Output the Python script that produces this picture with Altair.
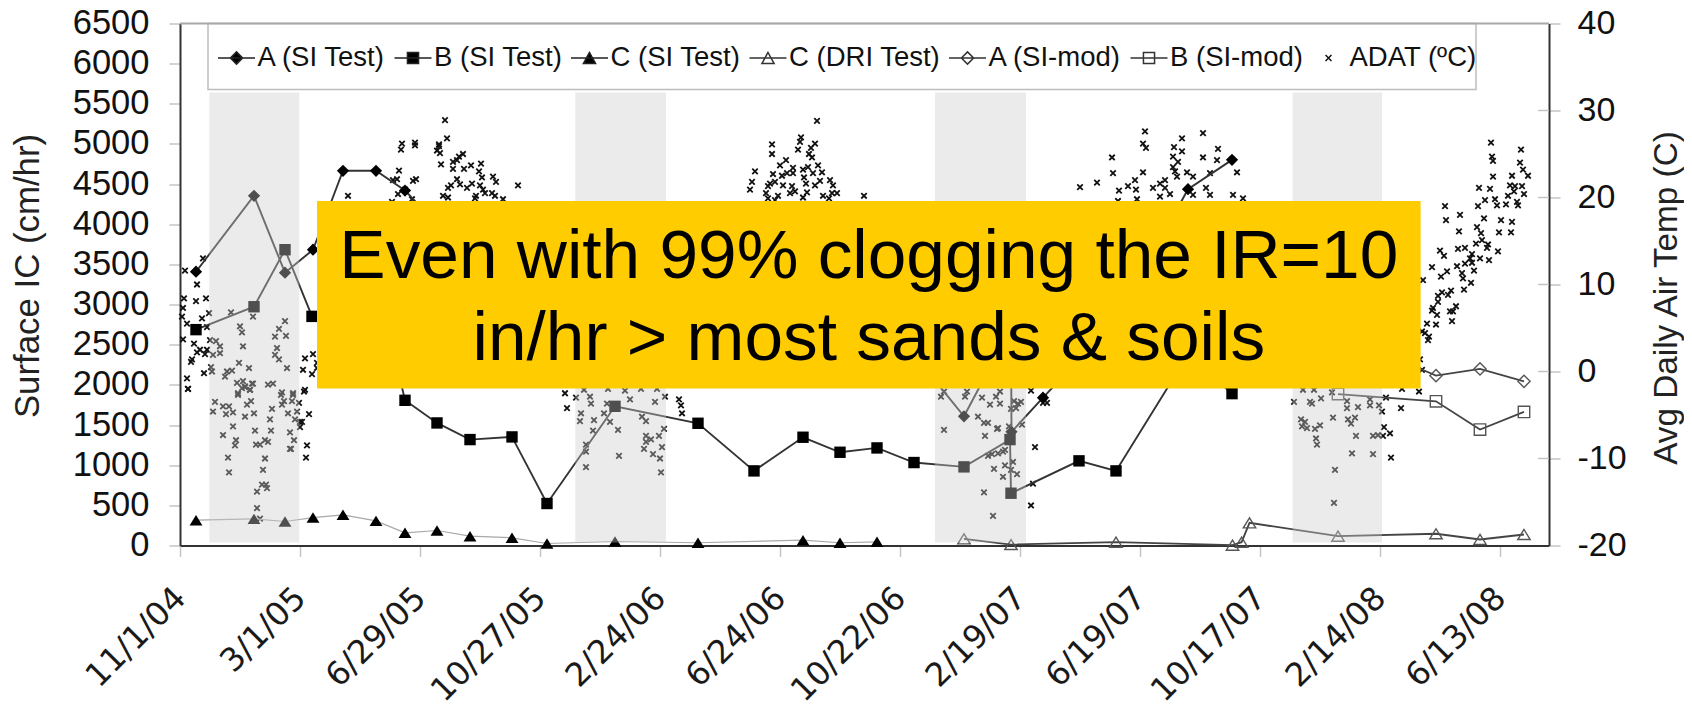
import altair as alt
import pandas as pd

FONT = "Liberation Sans"
DARK = "#333333"
CAL = 120 / 119.6

tick_days = [0, 120, 240, 360, 480, 600, 720, 840, 960, 1080, 1200, 1320]
tick_labels = ["11/1/04", "3/1/05", "6/29/05", "10/27/05", "2/24/06", "6/24/06",
               "10/22/06", "2/19/07", "6/19/07", "10/17/07", "2/14/08", "6/13/08"]
ic_ticks = list(range(0, 7000, 500))
temp_ticks = [-20, -10, 0, 10, 20, 30, 40]

a_si_day = [16, 74, 105, 133, 163, 196, 225, 257, 290, 332, 367, 435, 518, 574, 623, 660, 697, 734, 784, 831, 831.5, 863, 936, 1008, 1052]
a_si_val = [3409, 4355, 3397, 3683, 4666, 4666, 4420, 4000, 3800, 3500, 3000, 2700, 3000, 3200, 3500, 3300, 3000, 2377, 1609, 2712, 1415, 1841, 2800, 4437, 4802]
b_si_day = [16, 74, 105, 132, 163, 196, 225, 257, 290, 332, 367, 435, 518, 574, 623, 660, 697, 734, 784, 830, 831, 899, 936, 1008, 1052]
b_si_val = [2688, 2973, 3683, 2853, 3200, 3333, 1808, 1526, 1319, 1352, 523, 1733, 1522, 929, 1348, 1161, 1215, 1033, 979, 1319, 651, 1054, 929, 2376, 1891]
c_si_day = [16, 74, 105, 133, 163, 196, 225, 257, 290, 332, 367, 435, 518, 623, 660, 697]
c_si_val = [315, 332, 299, 348, 382, 307, 158, 187, 116, 96, 25, 50, 34, 66, 34, 46]
c_dri_day = [784, 831, 936, 1052.5, 1061.6, 1069.5, 1158, 1256, 1300, 1344]
c_dri_val = [83, 12, 41, 4, 41, 282, 116, 146, 75, 137]
a_mod_day = [1158, 1256, 1300, 1344]
a_mod_val = [2640, 2115, 2198, 2044]
b_mod_day = [1158, 1256, 1300, 1344]
b_mod_val = [1885, 1795, 1443, 1663]

band_start = [29.3, 395.3, 755, 1112.6]
band_end = [119.3, 486, 846, 1202]
band_low = 37
band_high = 5640

adat_day_1 = [23, 5, 17, 26, 16, 4, 3, 2, 29, 22, 7, 27, 3, 14, 30, 36, 40, 33, 40, 27, 20, 17, 25, 12, 11, 31, 32, 24, 7, 8, 60, 62, 63, 59, 69, 52, 47, 45, 57, 63, 72, 65, 62, 70, 58, 88, 93, 105, 99, 95, 106, 97, 95, 99, 107, 102, 113, 125, 125, 133, 137, 123, 132, 137, 73, 51]
adat_temp_1 = [13.0, 11.6, 10.0, 8.4, 8.1, 8.4, 7.3, 6.3, 6.7, 6.1, 5.5, 5.1, 3.7, 3.2, 3.6, 3.5, 2.9, 1.9, 2.1, 2.5, 2.5, 2.2, 2.0, 1.4, 1.1, 0.5, 0.0, -0.2, -0.8, -2.0, 5.2, 4.5, 2.9, 1.0, 0.4, 0.1, 0.0, -0.6, -1.3, -1.1, -1.4, -1.8, -1.9, -2.1, -2.5, -1.5, -1.4, 5.8, 4.9, 4.0, 4.1, 2.7, 1.9, 1.4, 0.4, -2.4, -2.5, -2.1, 1.5, 2.0, 1.0, 0.2, -0.3, 0.4, 6.3, 6.8]
adat_day_2 = [8, 35, 33, 43, 49, 46, 53, 43, 53, 56, 55, 48, 49, 58, 65, 70, 67, 71, 74, 75, 76, 80, 85, 88, 91, 90, 92, 85, 83, 77, 82, 87, 86, 77, 80, 101, 102, 104, 113, 112, 108, 119, 117, 115, 120, 122, 120, 110, 114, 110, 111, 127, 126, 129, 124, 65, 73]
adat_temp_2 = [-2.0, -3.5, -4.6, -4.0, -4.0, -4.9, -4.7, -7.3, -6.3, -7.9, -8.5, -9.9, -11.6, -2.7, -5.2, -2.1, -3.8, -3.4, -4.8, -6.8, -8.4, -8.4, -7.9, -8.1, -6.8, -5.5, -4.3, -10.0, -11.3, -13.8, -13.0, -13.4, -13.0, -15.7, -16.9, -2.7, -3.8, -3.4, -2.7, -3.4, -4.8, -3.6, -4.6, -5.5, -5.8, -5.8, -6.4, -7.0, -7.9, -8.9, -8.9, -8.5, -9.9, -4.9, -2.3, -1.7, -1.4]
adat_day_3 = [265, 267, 259, 259, 257, 260, 222, 221, 235, 235, 261, 273, 273, 279, 277, 283, 284, 291, 301, 299, 302, 300, 277, 271, 268, 280, 292, 313, 316, 338, 287, 303, 305, 312, 315, 296, 295, 323, 263, 268, 219, 213, 217, 236, 233, 225, 218, 232, 212, 168]
adat_temp_3 = [28.9, 26.8, 26.1, 25.9, 25.4, 25.1, 26.2, 25.5, 26.3, 26.0, 23.8, 24.1, 23.3, 24.7, 24.3, 25.0, 23.3, 23.7, 23.9, 23.0, 22.3, 21.4, 22.1, 21.4, 21.1, 21.5, 21.6, 22.4, 21.8, 21.4, 21.1, 20.9, 20.5, 20.5, 20.2, 20.2, 19.9, 19.8, 20.2, 20.0, 23.1, 22.0, 22.1, 22.1, 21.9, 20.9, 20.4, 19.8, 19.5, 20.2]
adat_day_4 = [385, 387, 396, 401, 400, 410, 411, 414, 413, 406, 406, 406, 404, 424, 427, 430, 438, 439, 428, 445, 450, 462, 466, 475, 485, 499, 501, 502, 484, 479, 471, 466, 466, 464, 482, 473, 480, 481, 477, 461]
adat_temp_4 = [-2.5, -4.2, -3.0, -4.8, -5.7, -2.9, -3.7, -5.6, -6.8, -8.4, -9.2, -11.0, -2.1, -4.8, -3.7, -5.8, -6.7, -9.7, -2.0, -2.2, -3.2, -5.2, -5.7, -3.5, -2.9, -3.2, -3.9, -4.8, -6.6, -7.4, -7.8, -7.4, -8.1, -8.9, -8.7, -9.5, -10.0, -11.6, -2.0, -2.0]
adat_day_5 = [637, 621, 620, 618, 635, 631, 629, 632, 592, 592, 606, 600, 613, 607, 602, 593, 575, 572, 570, 590, 595, 603, 588, 586, 598, 623, 628, 638, 633, 642, 624, 626, 640, 635, 650, 653, 612, 615, 610, 627, 623, 643, 652, 657, 684, 588, 649, 595, 613]
adat_temp_5 = [28.8, 26.9, 26.4, 25.5, 26.2, 25.7, 25.0, 24.6, 26.1, 25.0, 24.3, 23.7, 23.4, 22.8, 22.5, 22.7, 23.0, 21.8, 20.9, 21.6, 21.8, 21.4, 21.3, 20.5, 20.2, 23.2, 23.5, 23.7, 22.8, 22.9, 22.3, 21.6, 21.9, 21.4, 22.0, 21.4, 21.3, 20.7, 20.5, 20.6, 20.0, 20.2, 20.5, 20.5, 20.2, 19.9, 19.9, 19.7, 22.8]
adat_day_6 = [965, 1023, 1002, 963, 966, 994, 1002, 1038, 993, 932, 1023, 1037, 998, 993, 995, 997, 933, 963, 1007, 1013, 1057, 1030, 955, 900, 917, 939, 948, 956, 985, 980, 973, 985, 990, 1026, 1030, 1053, 1063, 957, 980, 1013, 938]
adat_temp_6 = [27.6, 27.4, 26.8, 26.2, 25.7, 25.8, 25.3, 25.6, 24.7, 24.6, 24.6, 24.3, 24.1, 23.5, 23.0, 22.4, 22.8, 22.9, 22.9, 22.4, 22.9, 22.8, 22.0, 21.2, 21.7, 20.8, 21.3, 20.9, 22.0, 21.6, 21.1, 21.1, 20.4, 21.1, 20.3, 20.3, 19.9, 19.8, 20.1, 20.3, 19.6]
adat_day_7 = [764, 761, 764, 787, 785, 798, 802, 816, 820, 810, 820, 804, 808, 805, 817, 818, 842, 829, 834, 838, 841, 836, 831, 808, 812, 818, 823, 825, 814, 825, 833, 831, 823, 837, 804, 813, 855, 853, 851, 864, 863, 867, 851]
adat_temp_7 = [-6.7, -2.9, -2.3, -2.3, -2.9, -5.2, -3.0, -2.9, -2.3, -3.8, -3.7, -5.9, -5.9, -7.4, -6.6, -6.5, -6.1, -6.3, -3.4, -3.7, -3.5, -4.2, -4.3, -9.7, -9.5, -9.4, -9.2, -9.0, -11.2, -10.8, -10.4, -11.3, -12.1, -11.8, -13.9, -16.6, -8.7, -12.9, -15.4, -3.0, -3.6, -3.6, -2.2]
adat_day_8 = [1114, 1123, 1134, 1130, 1132, 1141, 1152, 1167, 1167, 1178, 1190, 1190, 1199, 1202, 1206, 1221, 1222, 1239, 1153, 1121, 1125, 1122, 1127, 1135, 1140, 1136, 1137, 1168, 1171, 1175, 1176, 1193, 1198, 1203, 1204, 1210, 1172, 1193, 1211, 1155, 1154]
adat_temp_8 = [-3.5, -2.1, -2.1, -3.5, -3.7, -3.1, -2.4, -3.4, -4.2, -4.1, -3.2, -3.9, -3.9, -4.6, -3.0, -4.2, -2.0, -2.3, -5.3, -5.5, -5.8, -6.3, -6.5, -6.6, -6.2, -7.7, -8.4, -5.5, -6.0, -5.3, -7.4, -7.4, -7.3, -7.4, -6.4, -7.1, -9.4, -9.5, -9.9, -11.3, -15.1]
adat_day_9 = [1311, 1341, 1312, 1313, 1340, 1343, 1348, 1332, 1313, 1330, 1335, 1342, 1299, 1310, 1334, 1344, 1315, 1305, 1298, 1328, 1326, 1337, 1338, 1317, 1265, 1280, 1266, 1304, 1321, 1332, 1297, 1279, 1301, 1319, 1331, 1302, 1296, 1308, 1307, 1260, 1278, 1285, 1318, 1264, 1292, 1290, 1309, 1300, 1285, 1292, 1252, 1277, 1294, 1267, 1261, 1282, 1283, 1243, 1291, 1284, 1271, 1262, 1268, 1258, 1258, 1276, 1253, 1252, 1273, 1270, 1257, 1272, 1256, 1247, 1242, 1245, 1249, 1248, 1240, 1242]
adat_temp_9 = [26.3, 25.5, 24.7, 24.2, 24.0, 23.2, 22.5, 22.5, 22.4, 21.4, 21.3, 21.3, 21.1, 21.0, 20.7, 20.4, 19.8, 19.7, 19.0, 20.2, 19.2, 19.5, 19.1, 19.1, 19.0, 18.0, 17.4, 17.6, 17.4, 17.2, 16.6, 16.1, 15.9, 16.0, 16.0, 15.1, 14.7, 14.6, 14.2, 13.9, 14.1, 14.2, 13.8, 13.3, 13.5, 13.0, 12.8, 13.0, 12.4, 12.5, 12.0, 12.1, 11.6, 11.5, 10.9, 11.3, 10.7, 10.5, 10.2, 9.4, 9.3, 9.1, 8.8, 8.7, 8.0, 7.5, 7.3, 7.0, 6.9, 6.9, 6.5, 5.8, 5.4, 5.5, 4.6, 4.4, 4.0, 3.6, 1.4, 0.2]

adat_day = adat_day_1 + adat_day_2 + adat_day_3 + adat_day_4 + adat_day_5 + adat_day_6 + adat_day_7 + adat_day_8 + adat_day_9
adat_temp = adat_temp_1 + adat_temp_2 + adat_temp_3 + adat_temp_4 + adat_temp_5 + adat_temp_6 + adat_temp_7 + adat_temp_8 + adat_temp_9

series_names = ["A (SI Test)", "B (SI Test)", "C (SI Test)", "C (DRI Test)", "A (SI-mod)", "B (SI-mod)", "ADAT (ºC)"]
legend_shapes = [
    "M-1,0L1,0M0,-.33L.33,0L0,.33L-.33,0Z",
    "M-1,0L1,0M-.3,-.3L.3,-.3L.3,.3L-.3,.3Z",
    "M-1,0L1,0M0,-.3L-.33,.3L.33,.3Z",
    "M-1,0L1,0M0,-.3L-.33,.3L.33,.3Z",
    "M-1,0L1,0M0,-.33L.33,0L0,.33L-.33,0Z",
    "M-1,0L1,0M-.3,-.3L.3,-.3L.3,.3L-.3,.3Z",
    "M-.16,-.16L.16,.16M-.16,.16L.16,-.16",
]
legend_fills = ["#000000", "#000000", "#000000", "transparent", "transparent", "transparent", "transparent"]
legend_strokes = ["#222222", "#222222", "#222222", "#333333", "#333333", "#333333", "#111111"]

DIAMOND = "M0,-1L1,0L0,1L-1,0Z"
SQUARE = "M-1,-1L1,-1L1,1L-1,1Z"
TRIANGLE = "M0,-.85L-1.05,.85L1.05,.85Z"
CROSS = "M-1,-1L1,1M-1,1L1,-1"

PW, PH = 1369, 522
x_scale = alt.Scale(domain=[0, PW * CAL], nice=False, zero=False)
ic_scale = alt.Scale(domain=[0, 6500], nice=False, zero=False)
temp_scale = alt.Scale(domain=[-20, 40], nice=False, zero=False)
x_axis = alt.Axis(
    values=[d * CAL for d in tick_days],
    labelExpr="{}[round(datum.value / {})]".format(tick_labels, 120 * CAL),
    labelAngle=315, labelAlign="right", labelBaseline="middle",
    labelFont="DejaVu Sans", labelFontSize=32.5, labelColor="#1a1a1a",
    labelPadding=36, labelOverlap=False, labelBound=False, labelFlush=False,
    tickSize=11, tickColor="#c4c4c4", tickWidth=1.5,
    domainColor=DARK, domainWidth=2, grid=False)
X = alt.X("day:Q", scale=x_scale, title=None, axis=x_axis)
Y = alt.Y("val:Q", scale=ic_scale, axis=None)


def frame(days, vals):
    return pd.DataFrame({"day": [d * CAL for d in days], "val": vals})


def series(days, vals, shape, size, filled, line_color, line_width, point_color):
    df = frame(days, vals)
    line = alt.Chart(df).mark_line(color=line_color, strokeWidth=line_width).encode(X, Y)
    if filled:
        pts = alt.Chart(df).mark_point(shape=shape, size=size, filled=True, color=point_color, opacity=1).encode(X, Y)
    else:
        pts = alt.Chart(df).mark_point(shape=shape, size=size, filled=False, color=point_color, strokeWidth=1.4, opacity=1).encode(X, Y)
    return [line, pts]


one = pd.DataFrame({"k": [0]})

legend_frame = alt.Chart(one).mark_rect(fill="white", stroke="#bdbdbd", strokeWidth=1.5).encode(
    x=alt.value(28), x2=alt.value(1296), y=alt.value(0), y2=alt.value(66))

top_line = alt.Chart(one).mark_rule(color="#a8a8a8", strokeWidth=2).encode(
    x=alt.value(0), x2=alt.value(PW), y=alt.value(0))

left_axis_layer = alt.Chart(frame(tick_days, [0] * 12)).mark_point(opacity=0).encode(
    x=X,
    y=alt.Y("val:Q", scale=ic_scale, title="Surface IC (cm/hr)", axis=alt.Axis(
        values=ic_ticks, orient="left", labelFont=FONT, labelFontSize=34.5, labelColor="#111111",
        labelExpr="'' + datum.value",
        labelPadding=20, labelOverlap=False, labelBound=False, labelFlush=False,
        tickSize=11, tickColor="#c4c4c4", tickWidth=1.5,
        domainColor=DARK, domainWidth=2, grid=False,
        titleFont=FONT, titleFontSize=34.8, titleFontWeight="normal", titleColor="#222222",
        titleAngle=270, titleBaseline="middle", titleAlign="center", titleX=-152, titleY=252)),
)

adat_df = frame(adat_day, adat_temp)
adat = alt.Chart(adat_df).mark_point(shape=CROSS, size=30, filled=False, color="#111111", strokeWidth=1.8, opacity=1).encode(
    x=X,
    y=alt.Y("val:Q", scale=temp_scale, title="Avg Daily Air Temp (C)", axis=alt.Axis(
        values=temp_ticks, orient="right", labelFont=FONT, labelFontSize=34, labelColor="#111111",
        labelExpr="'' + datum.value",
        labelPadding=17, labelOverlap=False, labelBound=False, labelFlush=False,
        tickSize=11, tickColor="#c4c4c4", tickWidth=1.5,
        domainColor=DARK, domainWidth=2, grid=False,
        titleFont=FONT, titleFontSize=33.3, titleFontWeight="normal", titleColor="#222222",
        titleAngle=270, titleBaseline="middle", titleAlign="center", titleX=117, titleY=274)),
)

right_inner_ticks = alt.Chart(pd.DataFrame({"val": temp_ticks[1:-1]})).mark_rule(color="#c4c4c4", strokeWidth=1.5).encode(
    x=alt.value(PW - 11), x2=alt.value(PW),
    y=alt.Y("val:Q", scale=temp_scale, axis=None))

bands = alt.Chart(pd.DataFrame({
    "s": [d * CAL for d in band_start], "e": [d * CAL for d in band_end],
    "lo": [band_low] * 4, "hi": [band_high] * 4,
})).mark_rect(fill="#cccccc", opacity=0.39).encode(
    x=alt.X("s:Q", scale=x_scale, title=None, axis=x_axis), x2="e:Q",
    y=alt.Y("lo:Q", scale=ic_scale, axis=None), y2="hi:Q")

lines = []
lines += series(c_si_day, c_si_val, TRIANGLE, 150, True, "#a8a8a8", 1.2, "#000000")
lines += series(c_dri_day, c_dri_val, TRIANGLE, 140, False, "#444444", 1.8, "#555555")
lines += series(b_si_day, b_si_val, SQUARE, 130, True, DARK, 1.9, "#000000")
lines += series(a_si_day, a_si_val, DIAMOND, 150, True, DARK, 1.9, "#000000")
lines += series(a_mod_day, a_mod_val, DIAMOND, 150, False, "#444444", 1.8, "#555555")
lines += series(b_mod_day, b_mod_val, SQUARE, 130, False, "#444444", 1.8, "#555555")

legend_opts = dict(
    title=None, orient="none", legendX=37, legendY=15, columns=7, gridAlign="each",
    columnPadding=5.5, padding=0, labelFont=FONT, labelFontSize=27.5, labelColor="#111111",
    labelOffset=1.5, symbolSize=1369, symbolStrokeWidth=1.5,
    labelLimit=300, symbolOpacity=1)

legend_layer = alt.Chart(pd.DataFrame({"series": series_names, "day": [-500] * 7, "val": [1000] * 7})).mark_point(
    clip=True, size=1369, strokeWidth=1.5).encode(
    x=X, y=Y,
    shape=alt.Shape("series:N", scale=alt.Scale(domain=series_names, range=legend_shapes), legend=alt.Legend(**legend_opts)),
    fill=alt.Fill("series:N", scale=alt.Scale(domain=series_names, range=legend_fills), legend=alt.Legend(**legend_opts)),
    stroke=alt.Stroke("series:N", scale=alt.Scale(domain=series_names, range=legend_strokes), legend=alt.Legend(**legend_opts)),
)

note_box = alt.Chart(one).mark_rect(fill="#ffcc00").encode(
    x=alt.value(137), x2=alt.value(1240.6), y=alt.value(177.5), y2=alt.value(365))
note_1 = alt.Chart(one).mark_text(text="Even with 99% clogging the IR=10", font=FONT, fontSize=69.4, color="#000000",
                                  align="center", baseline="alphabetic").encode(x=alt.value(688.8), y=alt.value(254.5))
note_2 = alt.Chart(one).mark_text(text="in/hr > most sands & soils", font=FONT, fontSize=69.4, color="#000000",
                                  align="center", baseline="alphabetic").encode(x=alt.value(688.8), y=alt.value(336.5))

chart = alt.layer(
    legend_frame, left_axis_layer, top_line, right_inner_ticks, adat, *lines, bands, legend_layer,
    note_box, note_1, note_2,
).resolve_scale(y="independent").properties(
    width=PW, height=PH,
    autosize=alt.AutoSizeParams(type="none"),
    padding={"left": 172, "top": 15.5, "right": 135, "bottom": 162},
    background="white",
).configure_view(stroke=None)

chart.save("out.html", embed_options={"renderer": "svg", "actions": False})
